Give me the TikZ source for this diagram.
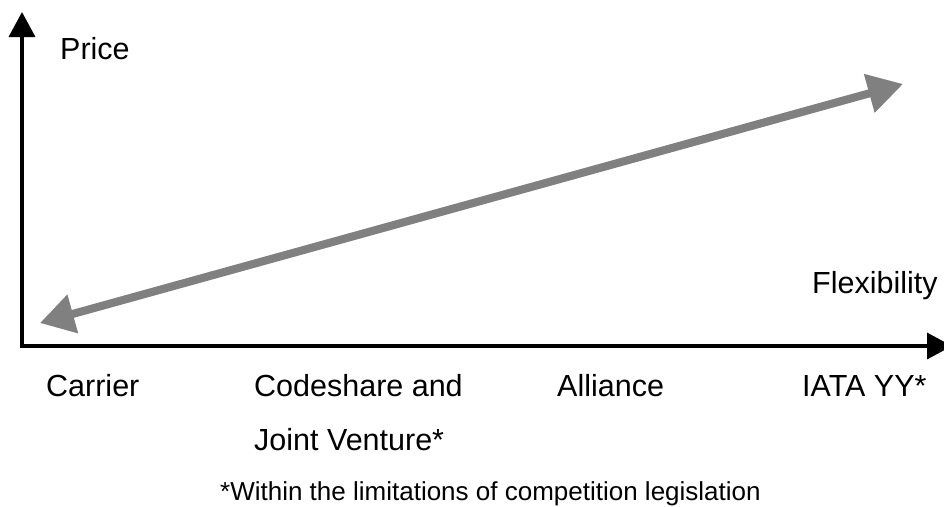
\documentclass[tikz,border=0pt]{standalone}
\usepackage{fontspec}
\setmainfont{Liberation Sans}
\usetikzlibrary{arrows.meta}
\definecolor{trendGray}{RGB}{128,128,128}
\tikzstyle{chart} = [x = 1pt, y = -1pt]
\tikzstyle{axisLine} = [color=black, line width=3.5pt, -{Triangle[length=25pt, width=26pt]}]
\tikzstyle{trendLine} = [color=trendGray, line width=8pt, {Triangle[length=34pt, width=38pt]}-{Triangle[length=35pt, width=38pt]}]
\tikzstyle{softShadow} = [color=black, opacity=.08, shift={(3,5)}]
\tikzstyle{axisText} = [font=\fontsize{30.5}{54}\selectfont, inner sep=0pt, anchor=base west]
\tikzstyle{noteText} = [font=\fontsize{26}{30}\selectfont, inner sep=0pt, anchor=base west]
\begin{document}
\begin{tikzpicture}[chart]
  \useasboundingbox (0,0) rectangle (944,506);
  \coordinate (origin) at (22,346);
  \coordinate (priceEnd) at (22,12);
  \coordinate (flexEnd) at (952,346);
  \coordinate (cheap) at (40,323);
  \coordinate (flexible) at (903,84);

  % shadows
  \draw [trendLine, softShadow] (cheap) -- (flexible);
  \draw [trendLine, softShadow, opacity=.05, shift={(2,3)}] (cheap) -- (flexible);
  \draw [axisLine, softShadow] (origin) -- (priceEnd);
  \draw [axisLine, softShadow] (origin) -- (flexEnd);

  % axes
  \draw [axisLine] ([xshift=-1.75]origin) -- (flexEnd);
  \draw [axisLine] (origin) -- (priceEnd);
  \draw [trendLine] (cheap) -- (flexible);

  % labels
  \node [axisText] (price) at (60,59) {Price};
  \node [axisText] (flexibility) at (812,293) {Flexibility};
  \node [axisText] (carrier) at (46,396) {Carrier};
  \node [axisText, align=left] (codeshare) at (254,450) {Codeshare and\\Joint Venture*};
  \node [axisText] (alliance) at (557,396) {Alliance};
  \node [axisText] (iata) at (802,396) {IATA YY*};
  \node [noteText] (note) at (220,500) {*Within the limitations of competition legislation};
\end{tikzpicture}
\end{document}
